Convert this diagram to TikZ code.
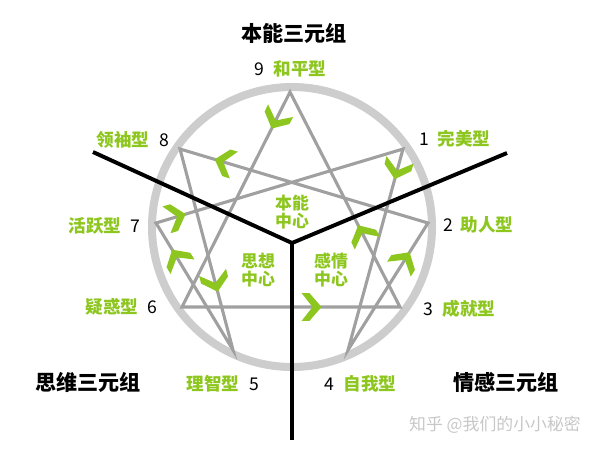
\documentclass[tikz,border=0pt]{standalone}
\usepackage{fontspec}
\setmainfont{Noto Sans CJK SC}
\usepackage{tikz}
\usetikzlibrary{calc}
\definecolor{leaf}{RGB}{141,198,30}
\definecolor{ringgray}{RGB}{205,205,205}
\definecolor{wiregray}{RGB}{160,160,160}
\newcommand{\flowmark}[3]{%
	\coordinate (tip) at ($(#1)!#3!(#2)$);
	\fill[chev] (tip) -- ($(tip)!0.46cm!49:(#1)$) -- ($(tip)!0.61cm!35:(#1)$) -- ($(tip)!0.225cm!(#1)$)
		-- ($(tip)!0.61cm!-35:(#1)$) -- ($(tip)!0.46cm!-49:(#1)$) -- cycle;
}

\begin{document}
\begin{tikzpicture}[x=0.025cm, y=-0.025cm,
		wire/.style={draw=wiregray, line width=2.2pt},
		trio/.style={draw=black, line width=2.8pt},
		chev/.style={fill=leaf},
		num/.style={font=\fontsize{12.5}{12.5}\selectfont},
		kind/.style={font=\bfseries\fontsize{12.5}{12.5}\selectfont, text=leaf},
		group/.style={font=\bfseries\fontsize{15}{15}\selectfont},
		centre/.style={font=\bfseries\fontsize{12}{12.5}\selectfont, text=leaf, align=center}]
			\useasboundingbox (0,0) rectangle (600,450);
			\coordinate (p9) at (290,92);
			\coordinate (p1) at (403,149);
			\coordinate (p2) at (428,223);
			\coordinate (p3) at (400,307);
			\coordinate (p4) at (348,350);
			\coordinate (p5) at (233,350);
			\coordinate (p6) at (182,307);
			\coordinate (p7) at (156,223);
			\coordinate (p8) at (180,149);
			\coordinate (hub) at (292,243);
			\coordinate (endL) at (93,152);
			\coordinate (endR) at (507,153);
			\coordinate (endB) at (292,440);
			\draw[draw=ringgray, line width=5.7pt] (292,227) circle[radius=140];
			\draw[wire] (p9) -- (p3) -- (p6) -- cycle;
			\draw[wire] (p1) -- (p4) -- (p2) -- (p8) -- (p5) -- (p7) -- cycle;
			\draw[trio] (endL) -- (hub) -- (endR);
			\draw[trio] (hub) -- (endB);
			\flowmark{p9}{p6}{0.17}
			\flowmark{p2}{p8}{0.86}
			\flowmark{p1}{p4}{0.15}
			\flowmark{p7}{p1}{0.12}
			\flowmark{p5}{p7}{0.79}
			\flowmark{p8}{p5}{0.71}
			\flowmark{p3}{p9}{0.38}
			\flowmark{p4}{p2}{0.77}
			\flowmark{p6}{p3}{0.64}
			\node[group] (gut) at (294,33) {本能三元组};
			\node[group] (head) at (88,382) {思维三元组};
			\node[group] (heart) at (506,382) {情感三元组};
			\node[centre] (cgut) at (292,212) {本能\\中心};
			\node[centre] (chead) at (258,270) {思想\\中心};
			\node[centre] (cheart) at (331,270) {感情\\中心};
			\node[num] (n9) at (259,69) {9};
			\node[kind] (t9) at (300,69) {和平型};
			\node[num] (n1) at (424,139) {1};
			\node[kind] (t1) at (464,139) {完美型};
			\node[num] (n2) at (448,225) {2};
			\node[kind] (t2) at (487,225) {助人型};
			\node[num] (n3) at (428,309) {3};
			\node[kind] (t3) at (469,309) {成就型};
			\node[num] (n4) at (329,384) {4};
			\node[kind] (t4) at (370,384) {自我型};
			\node[num] (n5) at (254,384) {5};
			\node[kind] (t5) at (213,384) {理智型};
			\node[num] (n6) at (152,307) {6};
			\node[kind] (t6) at (112,307) {疑惑型};
			\node[num] (n7) at (135,226) {7};
			\node[kind] (t7) at (95,226) {活跃型};
			\node[num] (n8) at (164,140) {8};
			\node[kind] (t8) at (123,140) {领袖型};
			\node[font=\fontsize{12}{12}\selectfont, text=black!22] (stamp) at (495,425) {知乎 @我们的小小秘密};
		\end{tikzpicture}
\end{document}
